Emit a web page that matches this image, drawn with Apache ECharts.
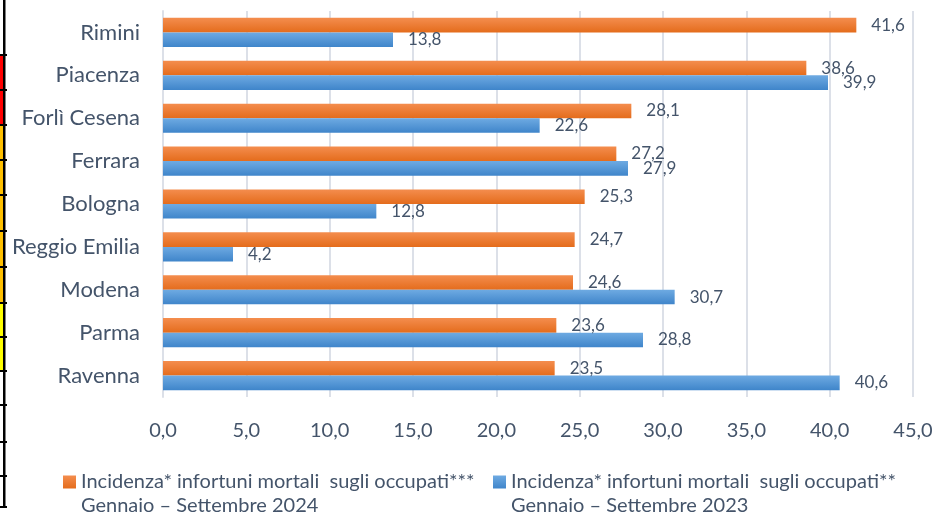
<!DOCTYPE html>
<html>
<head>
<meta charset="utf-8">
<script src="https://cdn.jsdelivr.net/npm/echarts@6/dist/echarts.min.js"></script>
<style>
html,body{margin:0;padding:0;background:#fff;}
#chart{width:937px;height:515px;}
</style>
</head>
<body>
<div id="chart"></div>
<script>
var categories = ['Rimini','Piacenza','Forlì Cesena','Ferrara','Bologna','Reggio Emilia','Modena','Parma','Ravenna'];
var values2024 = [41.6, 38.6, 28.1, 27.2, 25.3, 24.7, 24.6, 23.6, 23.5];
var values2023 = [13.8, 39.9, 22.6, 27.9, 12.8, 4.2, 30.7, 28.8, 40.6];
var name2024 = 'Incidenza* infortuni mortali  sugli occupati***\nGennaio \u2013 Settembre 2024';
var name2023 = 'Incidenza* infortuni mortali  sugli occupati**\nGennaio \u2013 Settembre 2023';
var xTicks = {min: 0, max: 45, interval: 5};

var textColor = '#44546A';
var fontFam = 'Lato, "Open Sans", sans-serif';
function fmt(v){ return Number(v).toFixed(1).replace('.', ','); }

var orangeGrad = new echarts.graphic.LinearGradient(0,0,0,1,[{offset:0,color:'#F48D4E'},{offset:1,color:'#E46C1C'}]);
var blueGrad = new echarts.graphic.LinearGradient(0,0,0,1,[{offset:0,color:'#6EAAE2'},{offset:1,color:'#3F85CA'}]);

// decorative left strip (table border remnant)
var strip = [];
strip.push({type:'rect', shape:{x:0,y:55,width:3.5,height:70}, style:{fill:'#FF0000'}, silent:true});
strip.push({type:'rect', shape:{x:0,y:125,width:3.5,height:178}, style:{fill:'#FFC000'}, silent:true});
strip.push({type:'rect', shape:{x:0,y:303,width:3.5,height:68}, style:{fill:'#FFFF00'}, silent:true});
strip.push({type:'rect', shape:{x:3,y:0,width:2.5,height:508}, style:{fill:'#000'}, silent:true});
[55,90,125,160,195,231,267,303,337,371,405,442,476,507].forEach(function(y){
  strip.push({type:'rect', shape:{x:0,y:y-1,width:7,height:2}, style:{fill:'#000'}, silent:true});
});

var legendText = {color:textColor, fontSize:20, fontFamily:fontFam, lineHeight:24};
var chart = echarts.init(document.getElementById('chart'), null, {renderer:'canvas'});
chart.setOption({
  animation: false,
  backgroundColor: '#fff',
  textStyle: {fontFamily: fontFam},
  graphic: strip,
  grid: {left: 163, right: 24, top: 11, bottom: 118, containLabel: false},
  xAxis: {
    type: 'value', min: xTicks.min, max: xTicks.max, interval: xTicks.interval,
    axisLine: {show:false}, axisTick: {show:false},
    splitLine: {show:true, lineStyle:{color:'#DCE0E8', width:2}},
    axisLabel: {color: textColor, fontSize: 20, fontFamily: fontFam, margin: 24, formatter: function(v){return fmt(v);}}
  },
  yAxis: {
    type: 'category', data: categories, inverse: true,
    axisLine: {show:true, lineStyle:{color:'#DCE0E8', width:2}}, axisTick: {show:false},
    axisLabel: {color: textColor, fontSize: 22, fontFamily: fontFam, margin: 23}
  },
  legend: [
    {data:[name2024], left: 63, top: 446, padding: 0, icon:'rect', itemWidth: 13, itemHeight: 13, itemGap: 0,
     formatter: function(n){return '\n' + n;}, textStyle: legendText},
    {data:[name2023], left: 493, top: 446, padding: 0, icon:'rect', itemWidth: 13, itemHeight: 13, itemGap: 0,
     formatter: function(n){return '\n' + n;}, textStyle: legendText}
  ],
  series: [
    {name: name2024, type:'bar', data: values2024, barGap: '0%', barCategoryGap: '32%',
     itemStyle:{color: orangeGrad},
     label:{show:true, position:'right', distance: 15, color:textColor, fontSize:17, fontFamily:fontFam, formatter:function(p){return fmt(p.value);}}},
    {name: name2023, type:'bar', data: values2023, barGap: '0%', barCategoryGap: '32%',
     itemStyle:{color: blueGrad},
     label:{show:true, position:'right', distance: 15, color:textColor, fontSize:17, fontFamily:fontFam, formatter:function(p){return fmt(p.value);}}}
  ]
});
</script>
</body>
</html>
